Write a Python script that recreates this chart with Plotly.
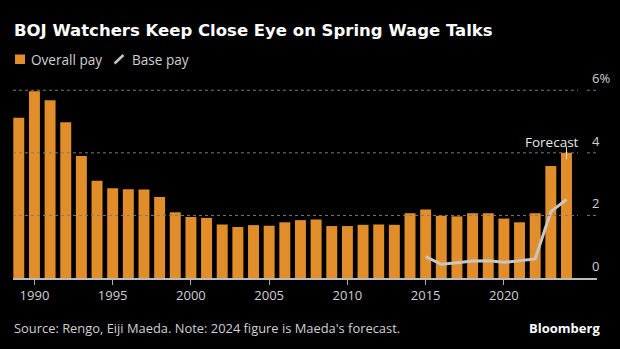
import plotly.graph_objects as go

# Spring wage settlements (Rengo), % increase
years = list(range(1989, 2025))
overall_pay = [5.12, 5.97, 5.68, 4.98, 3.90, 3.11, 2.87, 2.84, 2.83, 2.59,
               2.10, 1.95, 1.92, 1.71, 1.63, 1.69, 1.67, 1.78, 1.85, 1.87,
               1.66, 1.66, 1.70, 1.71, 1.70, 2.07, 2.19, 1.99, 1.97, 2.07,
               2.07, 1.90, 1.78, 2.07, 3.58, 4.00]
base_years = list(range(2015, 2025))
base_pay = [0.68, 0.44, 0.49, 0.54, 0.55, 0.50, 0.55, 0.61, 2.12, 2.51]

x_ticks = [1990, 1995, 2000, 2005, 2010, 2015, 2020]
y_ticks = [0, 2, 4, 6]
y_tick_text = ["0", "2", "4", "6%"]

ORANGE = "#E18E2A"
LINE = "#C9C6BF"
TEXT = "#D0D0D0"
FONT = "Open Sans"

W, H = 620, 349
L, R, T, B = 13, 23, 84, 71
PW, PH = W - L - R, H - T - B


def px(x):
    return (x - L) / PW


def py(y):
    return (H - B - y) / PH


fig = go.Figure()
fig.add_trace(go.Bar(x=years, y=overall_pay, marker_color=ORANGE,
                     marker_line_width=0, width=0.7, name="Overall pay"))
fig.add_trace(go.Scatter(x=base_years, y=base_pay, mode="lines",
                         line=dict(color=LINE, width=3), name="Base pay"))

shapes = []
# dotted gridlines, split just before the label column
for v in y_ticks[1:]:
    for x0, x1 in [(0, px(578)), (px(587), 1)]:
        shapes.append(dict(type="line", xref="paper", yref="y", x0=x0, x1=x1,
                           y0=v, y1=v, line=dict(color="#7a7a7a", width=1, dash="dot")))
# forecast leader on the last bar
shapes.append(dict(type="line", xref="x", yref="y", x0=years[-1], x1=years[-1],
                   y0=overall_pay[-1] - 0.2, y1=overall_pay[-1] + 0.2,
                   line=dict(color="#E0E0E0", width=1)))
# legend swatches
shapes.append(dict(type="rect", xref="paper", yref="paper", x0=px(15), x1=px(25),
                   y0=py(64), y1=py(54.5), fillcolor=ORANGE, line=dict(width=0)))
shapes.append(dict(type="line", xref="paper", yref="paper", x0=px(114.5), x1=px(123.5),
                   y0=py(63.5), y1=py(55), line=dict(color=LINE, width=2.5)))

annotations = [
    dict(text="<b>BOJ Watchers Keep Close Eye on Spring Wage Talks</b>", xref="paper",
         yref="paper", x=px(12), y=py(30), xanchor="left", yanchor="middle",
         showarrow=False, font=dict(family="DejaVu Sans", size=16.5, color="#FFFFFF")),
    dict(text="Overall pay", xref="paper", yref="paper", x=px(29), y=py(59),
         xanchor="left", yanchor="middle", showarrow=False,
         font=dict(family=FONT, size=13.6, color=TEXT)),
    dict(text="Base pay", xref="paper", yref="paper", x=px(129.5), y=py(59),
         xanchor="left", yanchor="middle", showarrow=False,
         font=dict(family=FONT, size=13.6, color=TEXT)),
    dict(text="Forecast", xref="x", yref="y", x=years[-1], y=overall_pay[-1],
         xanchor="center", yanchor="middle", xshift=-14, yshift=11, showarrow=False,
         font=dict(family=FONT, size=13.5, color="#E8E8E8")),
    dict(text="Source: Rengo, Eiji Maeda. Note: 2024 figure is Maeda's forecast.",
         xref="paper", yref="paper", x=px(12), y=py(328), xanchor="left",
         yanchor="middle", showarrow=False, font=dict(family=FONT, size=12.9, color=TEXT)),
    dict(text="<b>Bloomberg</b>", xref="paper", yref="paper", x=px(602), y=py(327.5),
         xanchor="right", yanchor="middle", showarrow=False,
         font=dict(family=FONT, size=13, color="#FFFFFF")),
]
# right-hand value labels sit above their gridlines
for v, t in zip(y_ticks, y_tick_text):
    annotations.append(dict(text=t, xref="paper", yref="y", x=px(590), y=v,
                            xanchor="left", yanchor="middle", yshift=12,
                            showarrow=False,
                            font=dict(family=FONT, size=13, color=TEXT)))

fig.update_layout(
    width=W, height=H, margin=dict(l=L, r=R, t=T, b=B),
    paper_bgcolor="#000000", plot_bgcolor="#000000",
    showlegend=False, bargap=0.3,
    shapes=shapes, annotations=annotations,
    xaxis=dict(range=[1988.63, 2025.95], tickvals=x_ticks, ticks="outside",
               ticklen=5, tickcolor="#AAAAAA", tickwidth=1, showgrid=False,
               showline=True, linecolor="#BBBBBB", linewidth=1.5, zeroline=False,
               tickfont=dict(family=FONT, size=13, color=TEXT)),
    yaxis=dict(range=[0, 6.2], showgrid=False, zeroline=False,
               showticklabels=False, fixedrange=True),
)

fig.write_html("out.html")
